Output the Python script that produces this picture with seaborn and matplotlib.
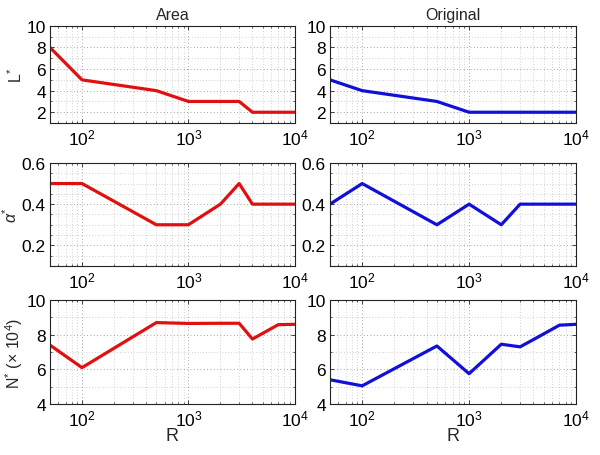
import matplotlib
matplotlib.use("Agg")
import matplotlib.pyplot as plt
import seaborn as sns
import pandas as pd
from matplotlib.ticker import MultipleLocator, LogLocator, NullFormatter, FormatStrFormatter

# data
r_values = [50, 100, 500, 1000, 2000, 3000, 4000, 7000, 10000]

area_L = [8, 5, 4, 3, 3, 3, 2, 2, 2]
orig_L = [5, 4, 3, 2, 2, 2, 2, 2, 2]

area_alpha = [0.5, 0.5, 0.3, 0.3, 0.4, 0.5, 0.4, 0.4, 0.4]
orig_alpha = [0.4, 0.5, 0.3, 0.4, 0.3, 0.4, 0.4, 0.4, 0.4]

area_N = [7.4, 6.1, 8.7, 8.65, 8.66, 8.66, 7.75, 8.58, 8.6]
orig_N = [5.4, 5.05, 7.35, 5.75, 7.45, 7.3, 7.72, 8.55, 8.6]

col_titles = ["Area", "Original"]
row_labels = ["L$^{*}$", r"$\alpha^{*}$", r"N$^{*}$ ($\times$ 10$^{4}$)"]
row_limits = [(1, 10), (0.1, 0.6), (4, 10)]
row_major = [2, 0.2, 2]
row_minor = [1, 0.05, 1]

series = [[area_L, orig_L], [area_alpha, orig_alpha], [area_N, orig_N]]
colors = ["#e01010", "#1010d8"]

sns.set_theme(style="ticks")
plt.rcParams["font.family"] = ["Liberation Sans", "DejaVu Sans"]
plt.rcParams["mathtext.fontset"] = "custom"
plt.rcParams["mathtext.rm"] = "Liberation Sans"
plt.rcParams["mathtext.it"] = "Liberation Sans:italic"

fig = plt.figure(figsize=(6.0, 4.56), dpi=100)

# axes boxes in figure fractions (left, bottom, width, height)
lefts = [0.0833, 0.55]
widths = [0.408, 0.41]
rows = [(0.728, 0.213), (0.4145, 0.226), (0.1118, 0.228)]

for i in range(3):
    for j in range(2):
        bottom, height = rows[i]
        ax = fig.add_axes([lefts[j], bottom, widths[j], height])
        df = pd.DataFrame({"R": r_values, "v": series[i][j]})
        sns.lineplot(data=df, x="R", y="v", color=colors[j], linewidth=2.3, ax=ax)
        ax.set_xscale("log")
        ax.set_xlim(50, 1e4)
        ax.set_ylim(*row_limits[i])
        ax.yaxis.set_major_locator(MultipleLocator(row_major[i]))
        ax.yaxis.set_minor_locator(MultipleLocator(row_minor[i]))
        ax.xaxis.set_major_locator(LogLocator(base=10, numticks=10))
        ax.xaxis.set_minor_locator(LogLocator(base=10, subs=range(2, 10), numticks=10))
        ax.xaxis.set_minor_formatter(NullFormatter())
        if i == 1:
            ax.yaxis.set_major_formatter(FormatStrFormatter("%.1f"))
        ax.grid(which="major", linestyle=(0, (1, 3)), color="#888888", linewidth=0.6)
        ax.grid(which="minor", linestyle=(0, (1, 3)), color="#aaaaaa", linewidth=0.5)
        ax.tick_params(which="both", direction="in", top=True, right=True,
                       labelsize=12.5, pad=3, colors="#222222", labelcolor="black")
        ax.tick_params(which="major", length=3, width=0.6)
        ax.tick_params(which="minor", length=1.5, width=0.5)
        for s in ax.spines.values():
            s.set_linewidth(0.8)
            s.set_color("#222222")
        ax.set_xlabel("R" if i == 2 else "", fontsize=13, labelpad=-1)
        ax.set_ylabel(row_labels[i] if j == 0 else "", fontsize=11.5, labelpad=1)
        if i == 0:
            ax.set_title(col_titles[j], fontsize=11.5, pad=5)

fig.savefig("out.png", dpi=100)
